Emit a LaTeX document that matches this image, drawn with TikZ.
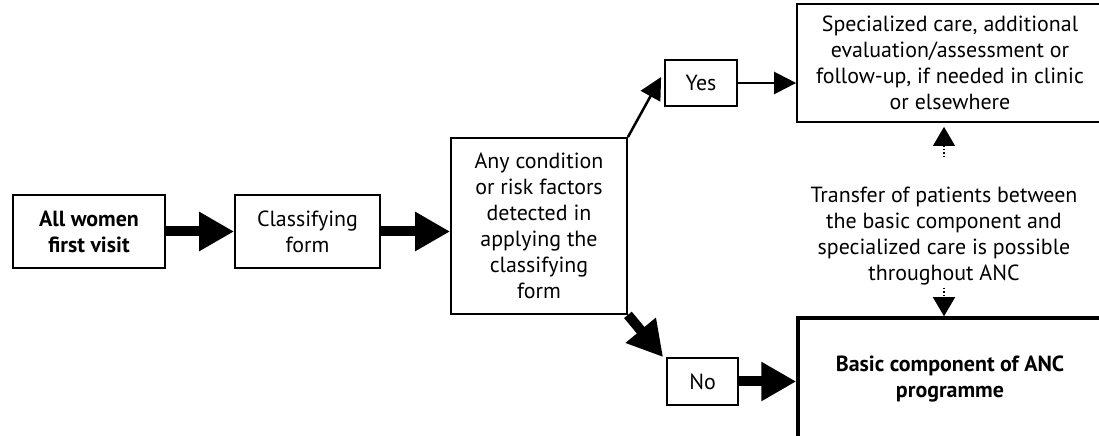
\documentclass[tikz,border=0pt]{standalone}
\usepackage{fontspec}
\setmainfont{PT Sans}
\usetikzlibrary{arrows.meta,calc}
\tikzset{
  bx/.style={draw, line width=1.8bp, align=center, inner sep=0pt,
    font=\fontsize{22}{26}\selectfont},
  boldtext/.style={font=\fontsize{22}{26}\selectfont\bfseries},
  thickarrow/.style={line width=10bp, -{Triangle[length=35bp,width=37bp]}},
  thinarrow/.style={line width=2.5bp, -{Triangle[length=22bp,width=22bp]}},
  dotarrow/.style={line width=1.2bp, dotted, -{Triangle[length=19bp,width=22bp]}},
}
\begin{document}
\begin{tikzpicture}[x=1bp,y=-1bp]
\useasboundingbox (0,0) rectangle (1099,436);
\clip (0,0) rectangle (1099,436);
\fill[white] (0,0) rectangle (1099,436);

\node[bx, boldtext, minimum width=152bp, minimum height=73bp] (b1) at (89,231.5) {All women\\first visit};
\node[bx, minimum width=145bp, minimum height=73bp] (b2) at (307.5,231.5) {Classifying\\form};
\node[bx, minimum width=176bp, minimum height=176bp] (b3) at (539,226) {Any condition\\or risk factors\\detected in\\applying the\\classifying\\form};
\node[bx, minimum width=72bp, minimum height=46bp] (yes) at (701,83) {Yes};
\node[bx, minimum width=71bp, minimum height=47bp] (no) at (702.5,381.5) {No};
\node[bx, minimum width=306bp, minimum height=118bp] (spec) at (950,63) {Specialized care, additional\\evaluation/assessment or\\follow-up, if needed in clinic\\or elsewhere};
\node[bx, boldtext, line width=3.5bp, minimum width=304bp, minimum height=122bp] (basic) at (950,379) {Basic component of ANC\\programme};
\node[align=center, inner sep=0pt, font=\fontsize{22}{26}\selectfont] (tr) at (944,236) {Transfer of patients between\\the basic component and\\specialized care is possible\\throughout ANC};

\draw[thickarrow] (b1.east) -- (b1.east -| b2.west);
\draw[thickarrow] (b2.east) -- (b2.east -| b3.west);
\draw[thinarrow] (b3.north east) -- ($(yes.west)+(-3,-6)$);
\draw[thickarrow] (b3.south east) -- ($(no.north west)+(-3,0)$);
\draw[thinarrow] (yes.east) -- (yes.east -| spec.west);
\draw[thickarrow] (no.east) -- (no.east -| basic.west);
\draw[dotarrow] ($(tr.north)+(0,-30)$) -- ($(tr.north |- spec.south)+(0,4)$);
\draw[dotarrow] ($(tr.south)+(0,3)$) -- (tr.south |- basic.north);
\end{tikzpicture}
\end{document}
